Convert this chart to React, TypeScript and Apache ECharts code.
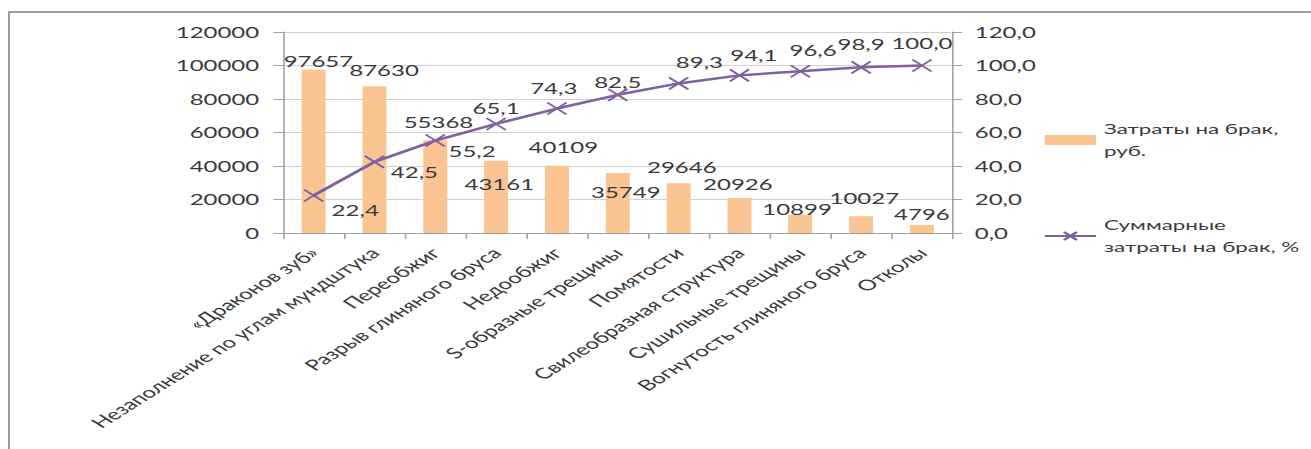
import React, { useEffect, useRef } from 'react';
import * as echarts from 'echarts';

const categories = [
  '«Драконов зуб»',
  'Незаполнение по углам мундштука',
  'Переобжиг',
  'Разрыв глиняного бруса',
  'Недообжиг',
  'S-образные трещины',
  'Помятости',
  'Свилеобразная структура',
  'Сушильные трещины',
  'Вогнутость глиняного бруса',
  'Отколы',
];
const costs = [97657, 87630, 55368, 43161, 40109, 35749, 29646, 20926, 10899, 10027, 4796];
const cumulative = [22.4, 42.5, 55.2, 65.1, 74.3, 82.5, 89.3, 94.1, 96.6, 98.9, 100.0];
const costName = 'Затраты на брак, руб.';
const cumName = 'Суммарные затраты на брак, %';
const legendLines: Record<string, string> = {
  [costName]: 'Затраты на брак,\nруб.',
  [cumName]: 'Суммарные\nзатраты на брак, %',
};

// label nudges (unstretched px)
const barLabelOffsets = [[3, 4], [6, -4], [2, -6], [2, 36], [4, -6], [5, 31], [2, -4], [-1, -1], [-2, 7], [2, -6], [0, 2]];
const lineLabelOffsets = [[26, 15], [25, 10], [23, 10], [0, -16], [-2, -21], [0, -13], [13, -21], [9, -20], [8, -21], [0, -23], [0, -22]];

const STRETCH = 1.6;
const W = 1311 / STRETCH;
const H = 449;
const FONT = 'Lato';
const FS = 15;
const TXT = '#3a3a3a';
const PURPLE = '#7D62A0';
const PEACH = '#FAC592';

const fmtPct = (v: number) => v.toFixed(1).replace('.', ',');

export default function App() {
  const ref = useRef<HTMLDivElement>(null);
  useEffect(() => {
    if (!ref.current) return;
    const chart = echarts.init(ref.current, undefined, { renderer: 'svg' });
    const xSym = 'path://M0,0L10,10M10,0L0,10';
    chart.setOption({
      animation: false,
      textStyle: { fontFamily: FONT },
      grid: { left: 177, right: W - 595.6, top: 32, bottom: H - 233 },
      legend: {
        orient: 'vertical',
        left: 647,
        top: 102,
        itemGap: 30,
        itemWidth: 32,
        itemHeight: 10,
        data: [{ name: costName, icon: 'rect' }, { name: cumName }],
        formatter: (n: string) => legendLines[n] || n,
        textStyle: { fontFamily: FONT, fontSize: 14, color: TXT, lineHeight: 22, padding: [22, 0, 0, 0] },
      },
      xAxis: {
        type: 'category',
        data: categories,
        axisLine: { lineStyle: { color: '#a0a0a0', width: 1 } },
        axisTick: { show: true, length: 6, lineStyle: { color: '#a0a0a0' } },
        axisLabel: { interval: 0, rotate: 45, margin: 17, fontSize: FS, color: TXT, fontFamily: FONT },
      },
      yAxis: [
        {
          type: 'value',
          min: 0,
          max: 120000,
          interval: 20000,
          axisLine: { show: true, lineStyle: { color: '#a0a0a0' } },
          axisTick: { show: true, length: 6, lineStyle: { color: '#a0a0a0' } },
          axisLabel: { margin: 15, fontSize: FS, color: TXT, fontFamily: FONT, formatter: (v: number) => String(v) },
          splitLine: { lineStyle: { color: '#cfcfcf' } },
        },
        {
          type: 'value',
          min: 0,
          max: 120,
          interval: 20,
          position: 'right',
          axisLine: { show: true, lineStyle: { color: '#a0a0a0' } },
          axisTick: { show: true, length: 6, lineStyle: { color: '#a0a0a0' } },
          axisLabel: { margin: 14, fontSize: FS, color: TXT, fontFamily: FONT, formatter: (v: number) => fmtPct(v) },
          splitLine: { show: false },
        },
      ],
      series: [
        {
          name: costName,
          type: 'bar',
          yAxisIndex: 0,
          barWidth: 15,
          itemStyle: { color: PEACH },
          data: costs.map((v, i) => ({ value: v, label: { offset: barLabelOffsets[i] } })),
          label: { show: true, position: 'top', fontSize: FS, color: TXT, fontFamily: FONT },
        },
        {
          name: cumName,
          type: 'line',
          yAxisIndex: 1,
          symbol: xSym,
          symbolSize: 12,
          lineStyle: { color: PURPLE, width: 2.5 },
          itemStyle: { color: PURPLE, borderColor: PURPLE, borderWidth: 1.6 },
          data: cumulative.map((v, i) => ({ value: v, label: { offset: lineLabelOffsets[i] } })),
          label: {
            show: true,
            position: 'inside',
            fontSize: FS,
            color: TXT,
            fontFamily: FONT,
            formatter: (p: any) => fmtPct(p.value),
          },
          z: 5,
        },
      ],
    });
    return () => chart.dispose();
  }, []);
  return (
    <div style={{ position: 'fixed', left: 0, top: 0, width: 1311, height: 449, overflow: 'hidden', background: '#fff' }}>
      <div
        style={{
          position: 'absolute',
          left: 8,
          top: 11,
          width: 1320,
          height: 460,
          borderLeft: '2px solid #9c9c9c',
          borderTop: '2px solid #9c9c9c',
        }}
      />
      <div
        ref={ref}
        style={{ position: 'absolute', left: 0, top: 0, width: W, height: H, transform: `scaleX(${STRETCH})`, transformOrigin: '0 0' }}
      />
    </div>
  );
}
